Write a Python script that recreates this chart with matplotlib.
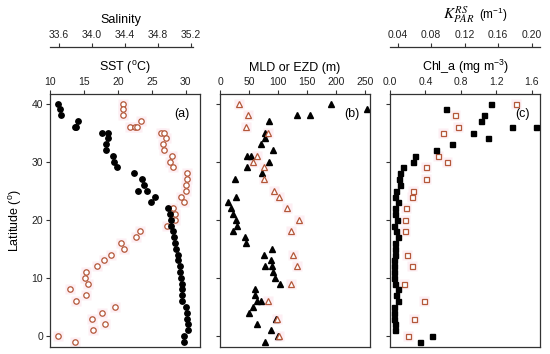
import numpy as np
import matplotlib.pyplot as plt

plt.rcParams['font.family'] = ['Liberation Sans', 'DejaVu Sans']
plt.rcParams['mathtext.fontset'] = 'custom'
plt.rcParams['mathtext.rm'] = 'Liberation Sans'
plt.rcParams['mathtext.it'] = 'Liberation Sans:italic'

# --- data ---
sst_lat = [40, 39, 38, 37, 36, 36, 35, 35, 34, 33, 32, 31, 30, 29, 28, 27, 26, 25, 25, 24, 23,
           22, 21, 20, 19, 18, 17, 16, 15, 14, 13, 12, 11, 10, 9, 8, 7, 6, 5, 4, 3, 2, 1, 0, -1]
sst = [11.2, 11.4, 11.6, 14.1, 13.7, 13.9, 17.6, 18.6, 18.6, 18.3, 18.2, 19.3, 19.4, 19.9, 22.4,
       23.6, 23.9, 22.9, 24.3, 25.4, 24.9, 27.45, 27.75, 27.8, 27.9, 28.1, 28.3, 28.4, 28.6, 28.9,
       28.9, 29.1, 29.1, 29.3, 29.4, 29.5, 29.5, 29.45, 30.1, 30.2, 30.2, 30.35, 30.35, 29.75, 29.75]

sal_lat = [40, 39, 38, 37, 36, 36, 36, 35, 35, 34, 33, 32, 31, 30, 29, 28, 27, 26, 25, 24, 23,
           22, 21, 20, 19, 18, 17, 16, 15, 14, 13, 12, 11, 10, 9, 8, 7, 6, 5, 4, 3, 2, 1, 0, -1]
salinity = [34.38, 34.38, 34.38, 34.60, 34.46, 34.53, 34.55, 34.84, 34.88, 34.90, 34.86, 34.88,
            34.97, 34.95, 34.99, 35.16, 35.16, 35.14, 35.14, 35.08, 35.12, 34.98, 35.01, 35.01,
            34.91, 34.585, 34.54, 34.35, 34.39, 34.23, 34.145, 34.06, 33.93, 33.92, 33.95, 33.74,
            33.93, 33.81, 34.28, 34.125, 34.01, 34.165, 34.02, 33.59, 33.80]

mld_lat = [40, 39, 38, 38, 37, 35, 34, 33, 32, 31, 31, 30, 29, 28, 27, 24, 23, 22, 21, 20, 19,
           18, 17, 16, 15, 14, 13, 12, 12, 11, 10, 9, 8, 7, 6, 6, 5, 4, 3, 2, 1, 0, -1]
mld = [191, 253, 132, 155, 84, 77.6, 77, 70, 91, 47, 53, 84.5, 47, 72, 26, 27.6, 14.4, 19, 22.4,
       27, 30, 22.4, 42.5, 45, 90, 76, 87, 77, 89.6, 92, 95, 103, 60, 60, 63, 70.7, 57, 50.5,
       96.5, 64, 87, 99, 78]

opt_lat = [40, 38, 36, 35, 31, 30, 29, 27, 25, 24, 22, 20, 18, 14, 12, 9, 6, 3, 0]
ezd = [33, 48, 45, 82, 63, 56, 75, 75, 93, 102, 115, 136, 122, 125, 133, 122, 83, 98, 102]
kpar = [0.181, 0.109, 0.112, 0.0945, 0.088, 0.099, 0.074, 0.074, 0.0586, 0.0567, 0.0503,
        0.0484, 0.0484, 0.0507, 0.0571, 0.0472, 0.0718, 0.0595, 0.0527]

chl_lat = [40, 39, 38, 37, 36, 36, 35, 34, 33, 32, 31, 30, 29, 28, 27, 26, 25, 24, 23, 22, 21,
           20, 19, 18, 17, 16, 15, 14, 13, 12, 11, 10, 9, 8, 7, 6, 5, 4, 3, 2, 1, 0, -1]
chl = [1.138, 0.633, 1.059, 1.032, 1.382, 1.65, 0.934, 1.104, 0.70, 0.516, 0.279, 0.264, 0.151,
       0.109, 0.098, 0.109, 0.064, 0.06, 0.094, 0.053, 0.06, 0.083, 0.049, 0.068, 0.09, 0.053,
       0.06, 0.053, 0.045, 0.045, 0.045, 0.049, 0.053, 0.094, 0.072, 0.09, 0.049, 0.049, 0.045,
       0.056, 0.06, 0.478, 0.339]

EDGE = '#b4583a'
HALO = '#fdeef3'
SPINE = '#333333'

fig = plt.figure(figsize=(5.5, 3.54), dpi=100)
W, H = 550.0, 354.0


def style_ticks(ax):
    ax.tick_params(axis='both', direction='out', length=3, width=0.8, colors=SPINE,
                   labelsize=7.5, pad=2, labelcolor='#222222')


def make_axes(x0, xlim):
    ax = fig.add_axes([x0 / W, 7 / H, 150 / W, 253.3 / H])
    ax.set_xlim(*xlim)
    ax.set_ylim(-1.9, 41.7)
    ax.xaxis.tick_top()
    style_ticks(ax)
    ax.set_yticks([0, 10, 20, 30, 40])
    for s in ax.spines.values():
        s.set_color(SPINE)
        s.set_linewidth(0.9)
    return ax


def make_twin(ax, xlim, bounds=None):
    tw = ax.twiny()
    tw.set_xlim(*xlim)
    for k in ('left', 'right', 'bottom'):
        tw.spines[k].set_visible(False)
    tw.spines['top'].set_position(('outward', 33.5))
    tw.spines['top'].set_color(SPINE)
    tw.spines['top'].set_linewidth(0.9)
    if bounds:
        tw.spines['top'].set_bounds(*bounds)
    style_ticks(tw)
    # twiny moves the parent's ticks to the bottom; put them back on top
    ax.xaxis.tick_top()
    style_ticks(ax)
    # draw the open markers beneath the filled ones
    ax.set_zorder(tw.get_zorder() + 1)
    ax.patch.set_visible(False)
    return tw


# (a) SST and salinity
ax1 = make_axes(50, (10, 32.1))
ax1.set_xticks([10, 15, 20, 25, 30])
tw1 = make_twin(ax1, (33.495, 35.313), bounds=(33.495, 35.23))
tw1.set_xticks([33.6, 34.0, 34.4, 34.8, 35.2])
tw1.set_xticklabels(['33.6', '34.0', '34.4', '34.8', '35.2'])
tw1.plot(salinity, sal_lat, 's', ms=7, color=HALO, mec='none', zorder=1)
tw1.plot(salinity, sal_lat, 'o', ms=3.9, mfc='white', mec=EDGE, mew=0.9, zorder=2)
ax1.plot(sst, sst_lat, 'o', ms=3.9, color='black', zorder=3)
ax1.text(0.93, 0.92, '(a)', transform=ax1.transAxes, ha='right', va='center', fontsize=9)
ax1.set_ylabel('Latitude ($^\\mathrm{o}$)', fontsize=9, labelpad=5)

# (b) MLD and EZD
ax2 = make_axes(220, (0, 258))
ax2.set_xticks([0, 50, 100, 150, 200, 250])
ax2.set_yticklabels([])
ax2.plot(ezd, opt_lat, 's', ms=7, color=HALO, mec='none', zorder=1)
ax2.plot(mld, mld_lat, '^', ms=4.3, color='black', zorder=2)
ax2.plot(ezd, opt_lat, '^', ms=4.3, mfc='white', mec=EDGE, mew=0.9, zorder=3)
ax2.text(0.93, 0.92, '(b)', transform=ax2.transAxes, ha='right', va='center', fontsize=9)

# (c) Chl_a and Kpar
ax3 = make_axes(390, (0, 1.695))
ax3.set_xticks([0.0, 0.4, 0.8, 1.2, 1.6])
ax3.set_xticklabels(['0.0', '0.4', '0.8', '1.2', '1.6'])
ax3.set_yticklabels([])
tw3 = make_twin(ax3, (0.0308, 0.2099))
tw3.set_xticks([0.04, 0.08, 0.12, 0.16, 0.20])
tw3.set_xticklabels(['0.04', '0.08', '0.12', '0.16', '0.20'])
tw3.plot(kpar, opt_lat, 's', ms=7, color=HALO, mec='none', zorder=1)
tw3.plot(kpar, opt_lat, 's', ms=3.6, mfc='white', mec=EDGE, mew=0.9, zorder=2)
ax3.plot(chl, chl_lat, 's', ms=3.6, color='black', zorder=3)
ax3.text(0.93, 0.92, '(c)', transform=ax3.transAxes, ha='right', va='center', fontsize=9)

# axis titles
fig.text(125 / W, 1 - 68 / H, 'SST ($^\\mathrm{o}$C)', ha='center', va='center', fontsize=9)
fig.text(295 / W, 1 - 68 / H, 'MLD or EZD (m)', ha='center', va='center', fontsize=9)
fig.text(466 / W, 1 - 67 / H, 'Chl_a (mg m$^{-3}$)', ha='center', va='center', fontsize=9)
fig.text(121 / W, 1 - 20 / H, 'Salinity', ha='center', va='center', fontsize=9)
fig.text(474 / W, 1 - 15 / H, r'$K_{PAR}^{RS}$', ha='right', va='center', fontsize=11,
         math_fontfamily='stix')
fig.text(479 / W, 1 - 15 / H, '(m$^{-1}$)', ha='left', va='center', fontsize=8.5)

fig.savefig('out.png', dpi=100)
